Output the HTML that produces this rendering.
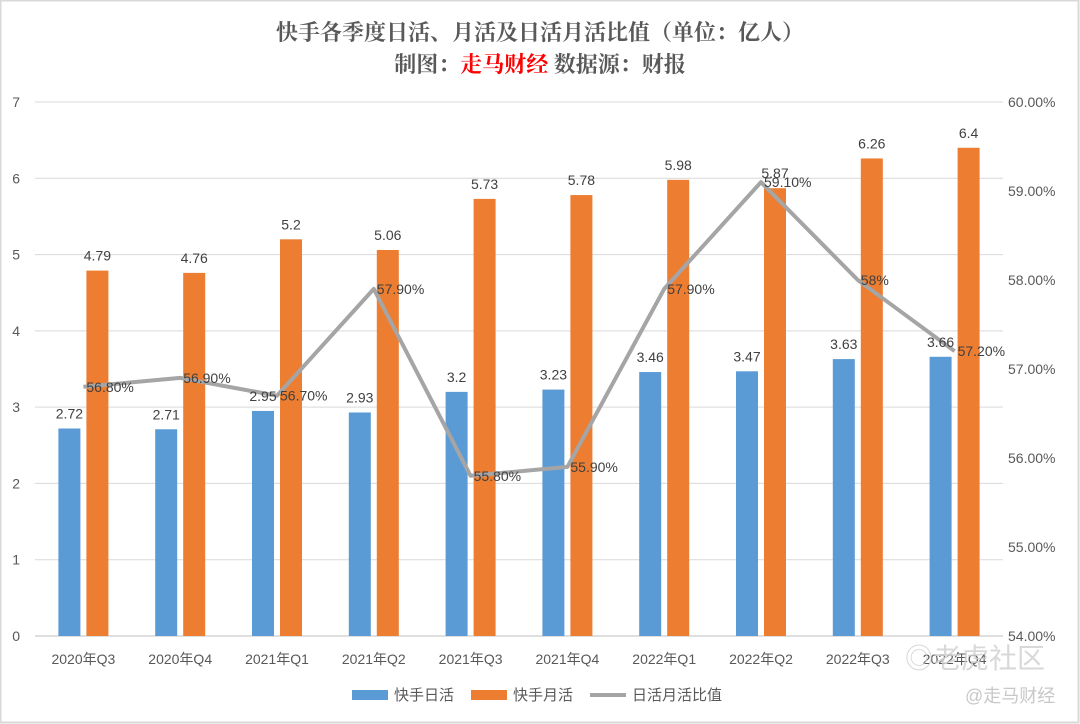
<!DOCTYPE html>
<html><head><meta charset="utf-8"><style>
body{margin:0;background:#fff}
svg{display:block;font-family:"Liberation Sans","Noto Sans CJK SC",sans-serif}
.ttl{font-family:"Liberation Serif","Noto Serif CJK SC",serif}
</style></head><body>
<svg id="chart" width="1080" height="724" viewBox="0 0 1080 724">
<rect x="0.5" y="0.5" width="1078" height="722" fill="#fff" stroke="#d9d9d9" stroke-width="2"/>
<text class="ttl" x="540" y="40" text-anchor="middle" font-size="22" font-weight="bold" fill="#595959">快手各季度日活、月活及日活月活比值（单位：亿人）</text>
<text class="ttl" x="540" y="72" text-anchor="middle" font-size="22" font-weight="bold" fill="#595959">制图：<tspan fill="#ff0000">走马财经</tspan> 数据源：财报</text>
<g id="grid"></g><g id="bars"></g><g id="line"></g><g id="labels"></g><g id="axes"></g>
<g>
<rect x="352" y="690" width="36" height="10" fill="#5b9bd5"/>
<text x="394" y="700" font-size="15" fill="#595959">快手日活</text>
<rect x="471" y="690" width="36" height="10" fill="#ed7d31"/>
<text x="513" y="700" font-size="15" fill="#595959">快手月活</text>
<line x1="590" y1="695" x2="626" y2="695" stroke="#a5a5a5" stroke-width="4"/>
<text x="632" y="700" font-size="15" fill="#595959">日活月活比值</text>
</g>
<text x="905" y="668" font-size="28" fill="#cfcfcf" opacity="0.8">◎老虎社区</text>
<text x="965" y="702" font-size="18" fill="#c8c8c8">@走马财经</text>
</svg>
<script>
const categories=["2020年Q3","2020年Q4","2021年Q1","2021年Q2","2021年Q3","2021年Q4","2022年Q1","2022年Q2","2022年Q3","2022年Q4"];
const dau=[2.72,2.71,2.95,2.93,3.2,3.23,3.46,3.47,3.63,3.66];
const mau=[4.79,4.76,5.2,5.06,5.73,5.78,5.98,5.87,6.26,6.4];
const ratio=[56.8,56.9,56.7,57.9,55.8,55.9,57.9,59.1,58,57.2];
const ratioLabels=["56.80%","56.90%","56.70%","57.90%","55.80%","55.90%","57.90%","59.10%","58%","57.20%"];
const leftTicks=[0,1,2,3,4,5,6,7];
const rightTicks=[54,55,56,57,58,59,60];
const NS="http://www.w3.org/2000/svg";
const L=35,R=1003,T=102,B=636,cw=(R-L)/categories.length;
const yL=v=>B-(v/7)*(B-T);
const yR=v=>B-((v-54)/6)*(B-T);
const xc=i=>L+cw*(i+0.5);
function mk(tag,attrs,parent,txt){const e=document.createElementNS(NS,tag);for(const k in attrs)e.setAttribute(k,attrs[k]);if(txt!==undefined)e.textContent=txt;document.getElementById(parent).appendChild(e);return e;}
leftTicks.forEach(t=>{
 const g=mk('line',{x1:L,x2:R,y1:yL(t),y2:yL(t),stroke:t===0?'#bfbfbf':'#d9d9d9','stroke-width':1},'grid');
 
 
 const e=mk('text',{x:20,y:yL(t)+5,'text-anchor':'end','font-size':14,fill:'#595959'},'axes',String(t));
 
 
});
rightTicks.forEach(t=>{
 const e=mk('text',{x:1008,y:yR(t)+5,'font-size':14,fill:'#595959'},'axes',t.toFixed(2)+'%');
 
 
});
categories.forEach((c,i)=>{
 const x=xc(i);
 const b=mk('rect',{x:x-25,y:yL(dau[i]),width:22,height:B-yL(dau[i]),fill:'#5b9bd5'},'bars');
 
 
 const o=mk('rect',{x:x+3,y:yL(mau[i]),width:22,height:B-yL(mau[i]),fill:'#ed7d31'},'bars');
 
 
 const t1=mk('text',{x:x-14,y:yL(dau[i])-10,'text-anchor':'middle','font-size':14,fill:'#404040'},'labels',String(dau[i]));
 
 
 const t2=mk('text',{x:x+14,y:yL(mau[i])-10,'text-anchor':'middle','font-size':14,fill:'#404040'},'labels',String(mau[i]));
 
 
 const t3=mk('text',{x:x+3,y:yR(ratio[i])+5,'font-size':14,fill:'#404040'},'labels',ratioLabels[i]);
 
 
 const cl=mk('text',{x:x,y:664,'text-anchor':'middle','font-size':14,fill:'#595959'},'axes',c);
 
 
});
const pl=mk('polyline',{points:ratio.map((v,i)=>xc(i)+','+yR(v)).join(' '),fill:'none',stroke:'#a5a5a5','stroke-width':4,'stroke-linejoin':'round'},'line');


</script>
</body></html>
